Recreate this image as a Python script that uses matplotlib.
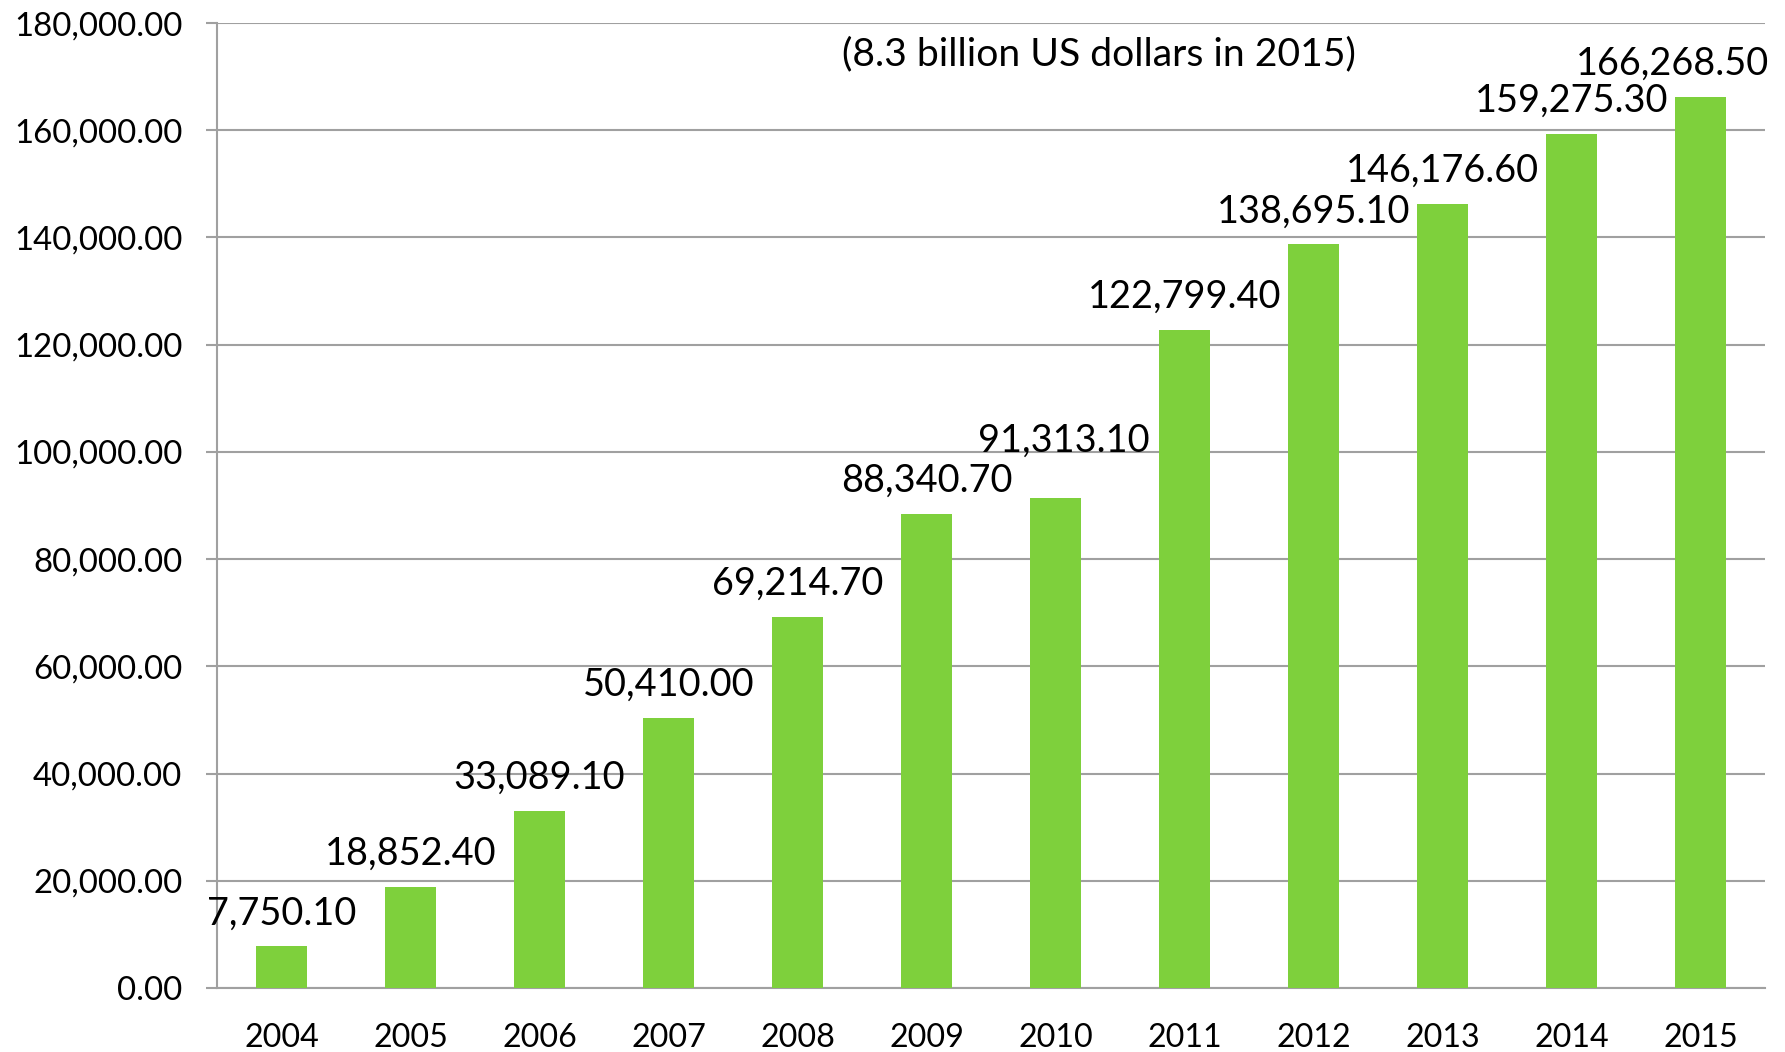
import matplotlib
matplotlib.use("Agg")
import matplotlib.pyplot as plt

plt.rcParams['font.family'] = ['Lato', 'DejaVu Sans']

years = ['2004', '2005', '2006', '2007', '2008', '2009',
         '2010', '2011', '2012', '2013', '2014', '2015']
values = [7750.10, 18852.40, 33089.10, 50410.00, 69214.70, 88340.70,
          91313.10, 122799.40, 138695.10, 146176.60, 159275.30, 166268.50]
y_ticks = [0, 20000, 40000, 60000, 80000, 100000, 120000, 140000, 160000, 180000]
note = '(8.3 billion US dollars in 2015)'

bar_color = '#7ED03C'
grid_color = '#A0A0A0'

# nudges (points) for labels that would collide or run off the edge
label_nudge = {6: (6, 18), 11: (-20, 0)}

fig = plt.figure(figsize=(17.85, 10.52), dpi=100)
ax = fig.add_axes([0.1216, 0.0608, 0.9888 - 0.1216, 0.9781 - 0.0608])

x = list(range(len(years)))
bars = ax.bar(x, values, width=0.4, color=bar_color, zorder=3)

for xi, v in zip(x, values):
    dx, dy = label_nudge.get(xi, (0, 0))
    ax.annotate('{:,.2f}'.format(v), xy=(xi, v), xytext=(dx, 16 + dy),
                textcoords='offset points', ha='center', va='baseline',
                fontsize=27.3, color='black', zorder=4)

ax.text(6.34, 174200, note, ha='center', va='center', fontsize=28.2)

ax.set_xlim(-0.5, len(years) - 0.5)
ax.set_ylim(0, 180000)
ax.set_yticks(y_ticks)
ax.set_yticklabels(['{:,.2f}'.format(t) for t in y_ticks])
ax.set_xticks(x)
ax.set_xticklabels(years)

ax.yaxis.grid(True, color=grid_color, linewidth=1.5, zorder=0)
ax.set_axisbelow(True)

for side in ['top', 'right']:
    ax.spines[side].set_visible(False)
for side in ['left', 'bottom']:
    ax.spines[side].set_color(grid_color)
    ax.spines[side].set_linewidth(1.5)

ax.tick_params(axis='y', length=8, width=1.5, color=grid_color,
               labelsize=23.8, pad=17)
ax.tick_params(axis='x', length=0, labelsize=23.2, pad=25)

fig.savefig('out.png', dpi=100)
